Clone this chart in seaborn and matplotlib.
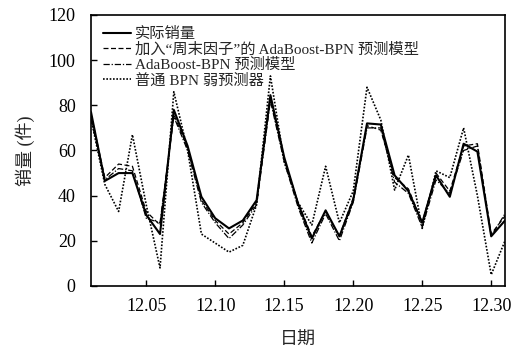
import seaborn as sns
import matplotlib.pyplot as plt
import pandas as pd

days = list(range(1, 32))
actual = [77, 46.5, 50, 50, 31.5, 23, 78, 62, 39.5, 30, 25.5, 29, 38, 84.5, 57, 36.5,
          21, 33.5, 22, 38, 72, 71.5, 49, 42, 28, 49, 39.5, 63, 59.5, 22, 29]
weekend_model = [76, 48, 54, 53, 33, 27, 76, 61, 38, 29, 23, 28, 37, 83, 56, 37,
                 22, 33, 22, 39, 71, 69, 48, 43, 28, 50, 42, 62, 63, 23, 31]
adaboost_model = [74, 47, 52, 51, 30, 28, 75, 60, 37, 28, 21, 27, 36, 82, 55, 35,
                  19, 32, 20, 37, 70, 70, 46, 41, 26, 47, 41, 60, 62, 22, 32]
bpn_model = [74, 45, 33, 67, 36, 8, 86, 60, 23, 19, 15, 18, 36, 93, 55, 37,
             27, 53, 28, 42, 88, 73.5, 42.5, 58, 25.5, 51, 48, 70, 40, 5, 20]

labels = ['实际销量', '加入“周末因子”的 AdaBoost-BPN 预测模型', 'AdaBoost-BPN 预测模型', '普通 BPN 弱预测器']
tick_days = [5, 10, 15, 20, 25, 30]
tick_labels = ['12.05', '12.10', '12.15', '12.20', '12.25', '12.30']

sns.set_style("ticks")
plt.rcParams['font.family'] = ['Liberation Serif', 'Noto Sans CJK SC']

fig = plt.figure(figsize=(5.21, 3.51), dpi=100)
ax = fig.add_axes([0.1747, 0.1852, 0.7946, 0.7721])

series = [actual, weekend_model, adaboost_model, bpn_model]
styles = [dict(linestyle='-', linewidth=1.5),
          dict(linestyle=(0, (4, 2)), linewidth=0.9),
          dict(linestyle=(0, (5, 1.5, 1, 1.5)), linewidth=0.9),
          dict(linestyle=(0, (1, 1)), linewidth=1.2)]
for values, label, st in zip(series, labels, styles):
    df = pd.DataFrame({'day': days, 'value': values})
    sns.lineplot(data=df, x='day', y='value', ax=ax, color='black', label=label, **st)

ax.set_xlim(1, 31)
ax.set_ylim(0, 120)
ax.set_xticks(tick_days)
ax.set_xticklabels(tick_labels)
ax.set_yticks(range(0, 121, 20))
ax.tick_params(direction='in', length=4, width=1, labelsize=13, colors='black')
ax.tick_params(axis='y', pad=11)
ax.tick_params(axis='x', pad=9)
for s in ax.spines.values():
    s.set_linewidth(1.2)
    s.set_color('black')
ax.set_xlabel('日期', fontsize=13, labelpad=12)
ax.set_ylabel('销量 (件)', fontsize=13, labelpad=10)

leg = ax.legend(loc='upper left', frameon=False, fontsize=11, handlelength=1.8,
                handletextpad=0.25, labelspacing=0.08, borderaxespad=0.5,
                borderpad=0.3)

fig.savefig('out.png', dpi=100)
